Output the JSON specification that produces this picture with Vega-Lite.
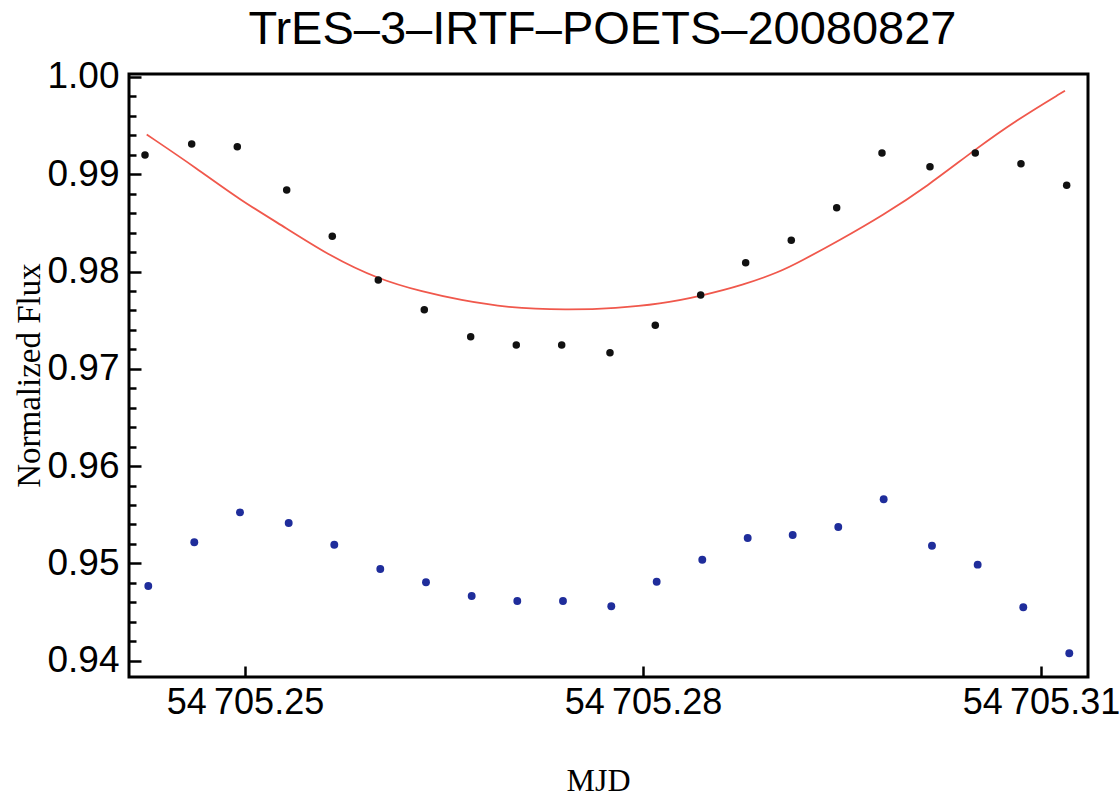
{
  "$schema": "https://vega.github.io/schema/vega-lite/v6.json",
  "width": 959,
  "height": 603,
  "autosize": {"type": "none"},
  "padding": {"left": 129, "top": 74, "right": 32, "bottom": 120},
  "background": "white",
  "config": {
    "view": {"stroke": "black", "strokeWidth": 3},
    "font": "Liberation Sans"
  },
  "title": {
    "text": "TrES–3–IRTF–POETS–20080827",
    "font": "Liberation Sans",
    "fontSize": 47,
    "fontWeight": "normal",
    "color": "black",
    "baseline": "alphabetic",
    "offset": 24,
    "dx": -6,
    "dy": 57
  },
  "datasets": {
    "corrected": [
      {"mjd": 54705.242463, "flux": 0.99197},
      {"mjd": 54705.245983, "flux": 0.99310},
      {"mjd": 54705.249420, "flux": 0.99283},
      {"mjd": 54705.253143, "flux": 0.98838},
      {"mjd": 54705.256580, "flux": 0.98362},
      {"mjd": 54705.260048, "flux": 0.97913},
      {"mjd": 54705.263515, "flux": 0.97607},
      {"mjd": 54705.267012, "flux": 0.97330},
      {"mjd": 54705.270449, "flux": 0.97245},
      {"mjd": 54705.273871, "flux": 0.97245},
      {"mjd": 54705.277512, "flux": 0.97165},
      {"mjd": 54705.280927, "flux": 0.97447},
      {"mjd": 54705.284348, "flux": 0.97758},
      {"mjd": 54705.287740, "flux": 0.98090},
      {"mjd": 54705.291177, "flux": 0.98321},
      {"mjd": 54705.294600, "flux": 0.98656},
      {"mjd": 54705.298014, "flux": 0.99218},
      {"mjd": 54705.301632, "flux": 0.99077},
      {"mjd": 54705.305047, "flux": 0.99218},
      {"mjd": 54705.308491, "flux": 0.99108},
      {"mjd": 54705.311936, "flux": 0.98886}
    ],
    "raw": [
      {"mjd": 54705.242711, "flux": 0.94768},
      {"mjd": 54705.246178, "flux": 0.95217},
      {"mjd": 54705.249623, "flux": 0.95525},
      {"mjd": 54705.253294, "flux": 0.95415},
      {"mjd": 54705.256731, "flux": 0.95192},
      {"mjd": 54705.260198, "flux": 0.94942},
      {"mjd": 54705.263643, "flux": 0.94806},
      {"mjd": 54705.267087, "flux": 0.94665},
      {"mjd": 54705.270525, "flux": 0.94614},
      {"mjd": 54705.273969, "flux": 0.94614},
      {"mjd": 54705.277610, "flux": 0.94559},
      {"mjd": 54705.281032, "flux": 0.94812},
      {"mjd": 54705.284469, "flux": 0.95038},
      {"mjd": 54705.287891, "flux": 0.95261},
      {"mjd": 54705.291283, "flux": 0.95292},
      {"mjd": 54705.294720, "flux": 0.95374},
      {"mjd": 54705.298142, "flux": 0.95659},
      {"mjd": 54705.301782, "flux": 0.95182},
      {"mjd": 54705.305227, "flux": 0.94987},
      {"mjd": 54705.308665, "flux": 0.94549},
      {"mjd": 54705.312132, "flux": 0.94076}
    ],
    "model": [
      {"mjd": 54705.242591, "flux": 0.99408},
      {"mjd": 54705.246359, "flux": 0.99061},
      {"mjd": 54705.249623, "flux": 0.98735},
      {"mjd": 54705.253143, "flux": 0.98444},
      {"mjd": 54705.256407, "flux": 0.98159},
      {"mjd": 54705.260048, "flux": 0.97920},
      {"mjd": 54705.263439, "flux": 0.97789},
      {"mjd": 54705.266206, "flux": 0.97707},
      {"mjd": 54705.269726, "flux": 0.97628},
      {"mjd": 54705.274248, "flux": 0.97604},
      {"mjd": 54705.278017, "flux": 0.97622},
      {"mjd": 54705.281281, "flux": 0.97666},
      {"mjd": 54705.284348, "flux": 0.97748},
      {"mjd": 54705.287559, "flux": 0.97861},
      {"mjd": 54705.290326, "flux": 0.97998},
      {"mjd": 54705.291833, "flux": 0.98101},
      {"mjd": 54705.294848, "flux": 0.98324},
      {"mjd": 54705.298112, "flux": 0.98581},
      {"mjd": 54705.301383, "flux": 0.98872},
      {"mjd": 54705.305047, "flux": 0.99256},
      {"mjd": 54705.308167, "flux": 0.99557},
      {"mjd": 54705.311808, "flux": 0.99858}
    ]
  },
  "encoding": {
    "x": {
      "field": "mjd",
      "type": "quantitative",
      "scale": {"domain": [54705.241257, 54705.313543], "nice": false, "zero": false},
      "axis": {
        "values": [54705.25, 54705.28, 54705.31],
        "labelExpr": "replace(format(datum.value, '.2f'), '54705', '54\u2009705')",
        "labelFont": "Liberation Sans",
        "labelFontSize": 36,
        "labelColor": "black",
        "labelPadding": 19,
        "labelFlush": false,
        "labelOverlap": false,
        "tickSize": -11,
        "tickWidth": 2.5,
        "tickColor": "black",
        "domain": false,
        "grid": false,
        "title": "MJD",
        "titleFont": "Liberation Serif",
        "titleFontSize": 32,
        "titleFontWeight": "normal",
        "titleColor": "black",
        "titleX": 469,
        "titleY": 113,
        "titleBaseline": "alphabetic",
        "titleAlign": "center"
      }
    }
  },
  "layer": [
    {
      "data": {"name": "model"},
      "mark": {"type": "line", "color": "#f0584c", "strokeWidth": 1.8, "interpolate": "basis"},
      "encoding": {
        "y": {
          "field": "flux",
          "type": "quantitative",
          "scale": {"domain": [0.938325, 1.000298], "nice": false, "zero": false},
          "axis": null
        }
      }
    },
    {
      "data": {"name": "corrected"},
      "mark": {"type": "circle", "color": "#111111", "opacity": 1, "size": 56},
      "encoding": {
        "y": {
          "field": "flux",
          "type": "quantitative",
          "axis": {
            "orient": "left",
            "values": [0.94, 0.95, 0.96, 0.97, 0.98, 0.99, 1.0],
            "format": ".2f",
            "labelFont": "Liberation Sans",
            "labelFontSize": 37,
            "labelColor": "black",
            "labelPadding": 22,
            "labelFlush": false,
            "labelOverlap": false,
            "tickSize": -12,
            "tickWidth": 2.5,
            "tickColor": "black",
            "domain": false,
            "grid": false,
            "title": "Normalized Flux",
            "titleFont": "Liberation Serif",
            "titleFontSize": 33,
            "titleFontWeight": "normal",
            "titleColor": "black",
            "titleAngle": -90,
            "titleX": -100,
            "titleY": 301,
            "titleAlign": "center",
            "titleBaseline": "middle"
          }
        }
      }
    },
    {
      "data": {"name": "raw"},
      "mark": {"type": "circle", "color": "#1f2d9b", "opacity": 1, "size": 62},
      "encoding": {
        "y": {
          "field": "flux",
          "type": "quantitative",
          "axis": {
            "orient": "left",
            "values": [0.942, 0.944, 0.946, 0.948, 0.952, 0.954, 0.956, 0.958, 0.962, 0.964, 0.966, 0.968, 0.972, 0.974, 0.976, 0.978, 0.982, 0.984, 0.986, 0.988, 0.992, 0.994, 0.996, 0.998],
            "labels": false,
            "tickSize": -7,
            "tickWidth": 2.5,
            "tickColor": "black",
            "domain": false,
            "grid": false,
            "title": null
          }
        }
      }
    }
  ],
  "resolve": {"axis": {"y": "independent"}}
}
